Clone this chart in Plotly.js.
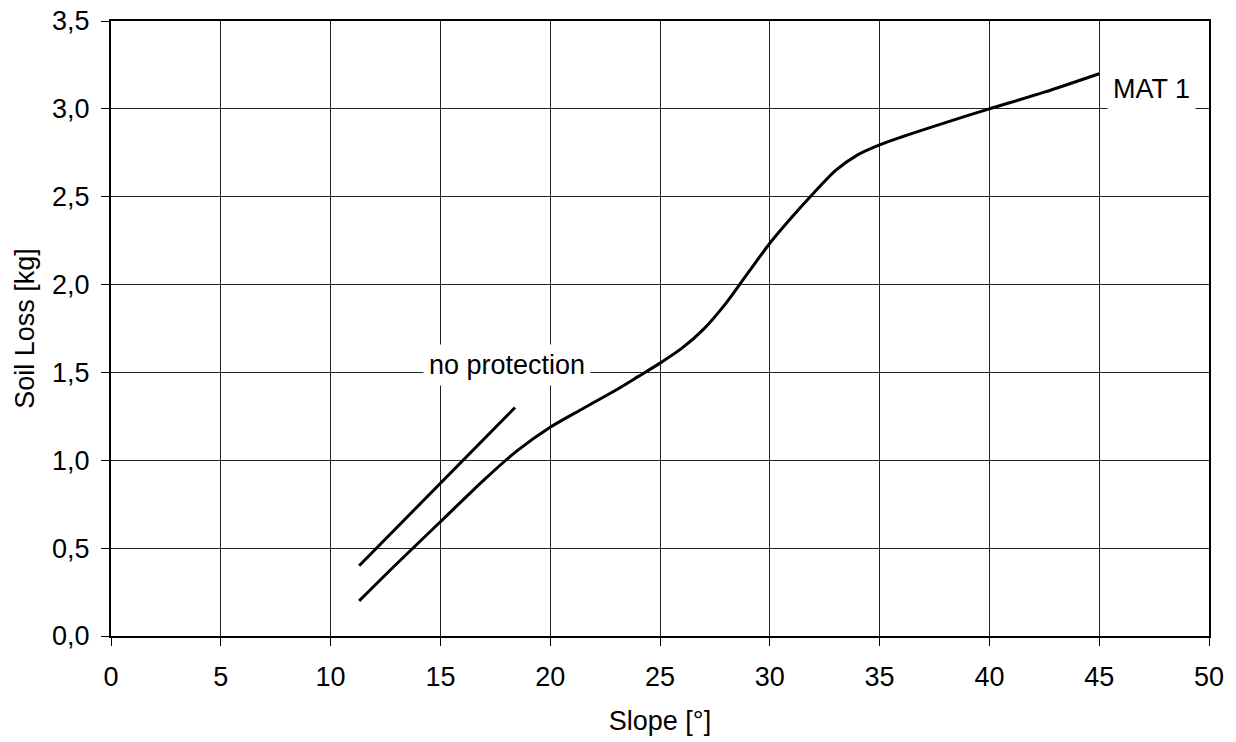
<!DOCTYPE html>
<html>
<head>
<meta charset="utf-8">
<script src="https://cdn.plot.ly/plotly-3.0.1.min.js"></script>
<style>html,body{margin:0;padding:0;background:#fff;}#chart{width:1236px;height:742px;}</style>
</head>
<body>
<div id="chart"></div>
<script>
// MAT 1 curve (slope in degrees, soil loss in kg)
const matSlope = [11.3, 13, 15, 17, 18.5, 20, 21.5, 23, 24, 25, 26, 27, 28, 29, 30, 31, 32, 33, 34, 35, 36, 38, 40, 42.5, 45];
const matLoss  = [0.2, 0.41, 0.65, 0.89, 1.055, 1.188, 1.295, 1.4, 1.476, 1.553, 1.638, 1.748, 1.893, 2.065, 2.235, 2.383, 2.521, 2.65, 2.738, 2.795, 2.84, 2.922, 3.0, 3.095, 3.2];

// No protection line
const noProtSlope = [11.3, 18.4];
const noProtLoss  = [0.4, 1.3];

// Labels
const labelNoProt = {text: "no protection", x: 18.02, y: 1.5};
const labelMat = {text: "MAT 1", x: 47.36, y: 3.0};

const xTicks = [0, 5, 10, 15, 20, 25, 30, 35, 40, 45, 50];
const yTicks = [0, 0.5, 1, 1.5, 2, 2.5, 3, 3.5];

const FONT = "Liberation Sans, Arial, sans-serif";

const traces = [
  {x: matSlope, y: matLoss, mode: "lines", line: {color: "#000", width: 3, shape: "spline", smoothing: 0.8}, showlegend: false, hoverinfo: "skip"},
  {x: noProtSlope, y: noProtLoss, mode: "lines", line: {color: "#000", width: 3}, showlegend: false, hoverinfo: "skip"}
];

const layout = {
  width: 1236, height: 742,
  paper_bgcolor: "#fff", plot_bgcolor: "#fff",
  margin: {l: 111, r: 27, t: 21, b: 106, pad: 0},
  separators: ", ",
  font: {family: FONT, size: 27, color: "#000"},
  showlegend: false,
  xaxis: {
    range: [0, 50], tickvals: xTicks, ticktext: xTicks.map(String),
    showgrid: true, gridcolor: "#222", gridwidth: 1,
    showline: true, linecolor: "#000", linewidth: 2, mirror: true,
    ticks: "outside", ticklen: 8, tickcolor: "#000", tickwidth: 1,
    ticklabelstandoff: 8,
    zeroline: false,
    tickfont: {family: FONT, size: 27, color: "#000"},
    title: {text: "Slope [°]", font: {family: FONT, size: 27, color: "#000"}, standoff: 20},
    automargin: false
  },
  yaxis: {
    range: [0, 3.5], tickvals: yTicks, tickformat: ".1f",
    showgrid: true, gridcolor: "#222", gridwidth: 1,
    showline: true, linecolor: "#000", linewidth: 2, mirror: true,
    ticks: "outside", ticklen: 8, tickcolor: "#000", tickwidth: 1,
    ticklabelstandoff: 6,
    zeroline: false,
    tickfont: {family: FONT, size: 27, color: "#000"},
    title: {text: "Soil Loss [kg]", font: {family: FONT, size: 27, color: "#000"}, standoff: 10},
    automargin: false
  },
  annotations: [
    {x: labelNoProt.x, y: labelNoProt.y, xref: "x", yref: "y", text: labelNoProt.text, showarrow: false,
     bgcolor: "#fff", borderpad: 5, yshift: 7, font: {family: FONT, size: 27, color: "#000"}},
    {x: labelMat.x, y: labelMat.y, xref: "x", yref: "y", text: labelMat.text, showarrow: false,
     bgcolor: "#fff", borderpad: 5, yshift: 20, font: {family: FONT, size: 27, color: "#000"}}
  ]
};

Plotly.newPlot("chart", traces, layout, {staticPlot: true, displayModeBar: false});
</script>
</body>
</html>
